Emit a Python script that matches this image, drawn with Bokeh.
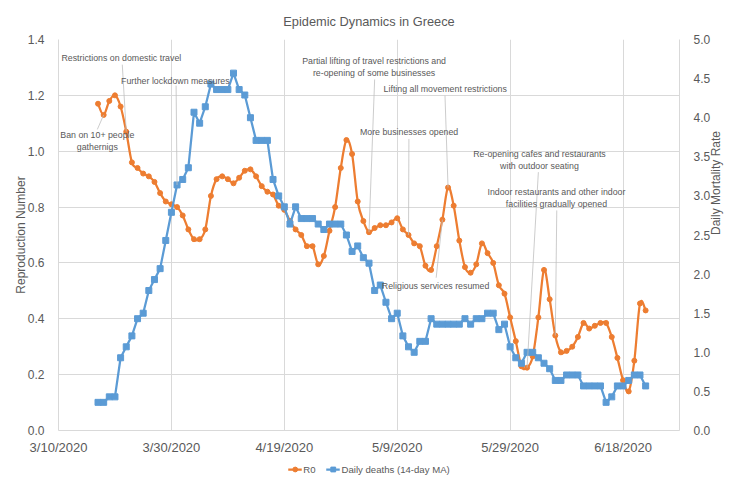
import math
import pandas as pd
from bokeh.plotting import figure
from bokeh.layouts import column
from bokeh.models import (Range1d, LinearAxis, FixedTicker, Legend, LegendItem,
                          Label, ColumnDataSource)
from bokeh.embed import file_html
from bokeh.resources import INLINE

# ---------------- data ----------------
start_date = "2020-03-17"
r0 = [1.17, 1.13, 1.18, 1.20, 1.16, 1.07, 0.96, 0.94, 0.92, 0.91, 0.89, 0.85, 0.82, 0.81, 0.80,
      0.77, 0.72, 0.685, 0.685, 0.72, 0.84, 0.90, 0.91, 0.90, 0.885, 0.905, 0.93, 0.935, 0.91,
      0.875, 0.855, 0.845, 0.805, 0.79, 0.75, 0.72, 0.70, 0.66, 0.66, 0.595, 0.625, 0.715, 0.80,
      0.94, 1.04,
      0.99, 0.82, 0.75, 0.71, 0.725, 0.735, 0.735, 0.745, 0.76, 0.72, 0.70, 0.67, 0.66, 0.59,
      0.575, 0.66, 0.755, 0.87, 0.805, 0.68, 0.585, 0.565, 0.595, 0.67, 0.635, 0.60, 0.52, 0.49,
      0.405, 0.32, 0.23,
      0.225, 0.265, 0.405, 0.575, 0.47, 0.34, 0.28, 0.285, 0.30, 0.335, 0.385, 0.365, 0.375,
      0.385, 0.385, 0.335, 0.26, 0.18, 0.14, 0.25, 0.455, 0.43]
deaths = [0.36, 0.36, 0.43, 0.43, 0.93, 1.07, 1.21, 1.43, 1.50, 1.79, 1.93, 2.07, 2.43, 2.79, 3.14,
          3.21, 3.36, 4.07, 3.93, 4.14, 4.43, 4.36, 4.36, 4.36, 4.57, 4.36, 4.29, 4.00, 3.71,
          3.71, 3.71, 3.21, 3.00, 2.86, 2.64, 2.86, 2.71, 2.71, 2.71, 2.64, 2.57, 2.64, 2.64,
          2.64, 2.50,
          2.29, 2.36, 2.21, 2.14, 1.79, 1.86, 1.64, 1.43, 1.50, 1.21, 1.07, 1.00, 1.14, 1.14,
          1.43, 1.36, 1.36, 1.36, 1.36, 1.36, 1.43, 1.36, 1.43, 1.43, 1.50, 1.50, 1.29, 1.36,
          1.07, 0.93, 0.86,
          1.00, 1.00, 0.93, 0.86, 0.79, 0.64, 0.64, 0.71, 0.71, 0.71, 0.57, 0.57, 0.57, 0.57,
          0.36, 0.43, 0.57, 0.57, 0.64, 0.71, 0.71, 0.57]
x_tick_labels = ["3/10/2020", "3/30/2020", "4/19/2020", "5/9/2020", "5/29/2020", "6/18/2020"]
x_end_label = "6/28/2020"
left_ticks = [0.0, 0.2, 0.4, 0.6, 0.8, 1.0, 1.2, 1.4]
right_ticks = [0.0, 0.5, 1.0, 1.5, 2.0, 2.5, 3.0, 3.5, 4.0, 4.5, 5.0]
series_names = ["R0", "Daily deaths (14-day MA)"]

# annotations: text, text centre (days after 3/10, R0 units), leader start, target series, target date
annotations = [
    ("Ban on 10+ people\ngathernigs", 6.88, 1.0365, 6.88, 1.078, "r0", "2020-03-18"),
    ("Restrictions on domestic travel", 11.13, 1.332, 11.3, 1.31, "r0", "2020-03-22"),
    ("Further lockdown measures", 20.7, 1.253, 20.83, 1.235, "deaths", "2020-03-31"),
    ("Partial lifting of travel restrictions and\nre-opening of some businesses", 55.9, 1.3025, 56.0, 1.257, "r0", "2020-05-04"),
    ("Lifting all movement restrictions", 68.5, 1.221, 68.46, 1.199, "r0", "2020-05-18"),
    ("More businesses opened", 62.1, 1.068, 62.07, 1.044, "r0", "2020-05-11"),
    ("Religious services resumed", 66.8, 0.519, 66.9, 0.547, "r0", "2020-05-17"),
    ("Re-opening cafes and restaurants\nwith outdoor seating", 85.2, 0.969, 85.0, 0.925, "r0", "2020-06-01"),
    ("Indoor restaurants and other indoor\nfacilities gradually opened", 88.2, 0.8315, 88.26, 0.788, "r0", "2020-06-06"),
]

# ---------------- style ----------------
FONT = "Liberation Sans"
TXT = "#595959"
GRID = "#d9d9d9"
ORANGE = "#ED7D31"
BLUE = "#5B9BD5"
DAY = 86400000.0

def ms(s):
    return pd.Timestamp(s).value // 10**6

dates = pd.date_range(start_date, periods=len(r0), freq="D")
xs = [float(v) for v in (dates.astype("int64") // 10**6)]
tick_ms = [ms(pd.to_datetime(t, format="%m/%d/%Y")) for t in x_tick_labels]
x0 = tick_ms[0]
x1 = ms(pd.to_datetime(x_end_label, format="%m/%d/%Y"))

p = figure(width=737, height=462, x_axis_type="datetime",
           x_range=Range1d(x0, x1), y_range=Range1d(left_ticks[0], left_ticks[-1]),
           output_backend="svg", toolbar_location=None,
           min_border_left=58, min_border_right=58, min_border_top=39, min_border_bottom=32)
p.extra_y_ranges = {"deaths": Range1d(right_ticks[0], right_ticks[-1])}
p.outline_line_color = None
p.background_fill_color = "white"

p.title.text = "Epidemic Dynamics in Greece"
p.title.align = "center"
p.title.text_font = FONT
p.title.text_font_size = "12.8px"
p.title.text_font_style = "normal"
p.title.text_color = TXT
p.title.standoff = 22

# x axis
xa = p.xaxis[0]
xa.ticker = FixedTicker(ticks=tick_ms)
xa.major_label_overrides = {t: l for t, l in zip(tick_ms, x_tick_labels)}
xa.major_label_text_font = FONT
xa.major_label_text_font_size = "13px"
xa.major_label_text_color = TXT
xa.major_label_standoff = 3
xa.axis_line_color = GRID
xa.major_tick_line_color = None
xa.minor_tick_line_color = None

# left axis
ya = p.yaxis[0]
ya.ticker = FixedTicker(ticks=left_ticks)
ya.major_label_overrides = {t: f"{t:.1f}" for t in left_ticks}
ya.axis_label = "Reproduction Number"

# right axis
ra = LinearAxis(y_range_name="deaths", axis_label="Daily  Mortality Rate")
ra.ticker = FixedTicker(ticks=right_ticks)
ra.major_label_overrides = {t: f"{t:.1f}" for t in right_ticks}
p.add_layout(ra, "right")
try:
    ra.axis_label_orientation = math.pi / 2
except Exception:
    pass

for ax in (ya, ra):
    ax.major_label_text_font = FONT
    ax.major_label_text_font_size = "12px"
    ax.major_label_text_color = TXT
    ax.axis_label_text_font = FONT
    ax.axis_label_text_font_size = "12px"
    ax.axis_label_text_font_style = "normal"
    ax.axis_label_text_color = TXT
    ax.axis_line_color = GRID
    ax.major_tick_line_color = None
    ax.minor_tick_line_color = None
ya.major_label_standoff = 8
ya.axis_label_standoff = -3
ra.major_label_standoff = 8
ra.axis_label_standoff = 3

p.xgrid.ticker = FixedTicker(ticks=tick_ms)
p.ygrid.ticker = FixedTicker(ticks=left_ticks)
p.xgrid.grid_line_color = GRID
p.ygrid.grid_line_color = GRID

# ---------------- orange series (smoothed like Excel) ----------------
n = len(r0)
bx0, by0, bx1, by1, cx0, cy0, cx1, cy1 = [], [], [], [], [], [], [], []
for i in range(n - 1):
    a = i - 1 if i > 0 else i
    d = i + 2 if i + 2 < n else i + 1
    bx0.append(xs[i]); by0.append(r0[i])
    bx1.append(xs[i + 1]); by1.append(r0[i + 1])
    cx0.append(xs[i] + (xs[i + 1] - xs[a]) / 6.0)
    cy0.append(r0[i] + (r0[i + 1] - r0[a]) / 6.0)
    cx1.append(xs[i + 1] - (xs[d] - xs[i]) / 6.0)
    cy1.append(r0[i + 1] - (r0[d] - r0[i]) / 6.0)
bsrc = ColumnDataSource(dict(x0=bx0, y0=by0, x1=bx1, y1=by1, cx0=cx0, cy0=cy0, cx1=cx1, cy1=cy1))
p.bezier(x0="x0", y0="y0", x1="x1", y1="y1", cx0="cx0", cy0="cy0", cx1="cx1", cy1="cy1",
         source=bsrc, line_color=ORANGE, line_width=2.25)
p.scatter(xs, r0, marker="circle", size=5, fill_color=ORANGE, line_color=ORANGE)

# ---------------- blue series ----------------
p.line(xs, deaths, y_range_name="deaths", line_color=BLUE, line_width=2.25)
p.scatter(xs, deaths, y_range_name="deaths", marker="square", size=6,
          fill_color=BLUE, line_color=BLUE)

# ---------------- annotations ----------------
date_index = {d.strftime("%Y-%m-%d"): i for i, d in enumerate(dates)}
lead_r0 = dict(x0=[], y0=[], x1=[], y1=[])
lead_d = dict(x0=[], y0=[], x1=[], y1=[])
scale = right_ticks[-1] / left_ticks[-1]
for text, tx, ty, lx, ly, ser, tdate in annotations:
    p.add_layout(Label(x=x0 + tx * DAY, y=ty, text=text, text_align="center",
                       text_baseline="middle", text_font=FONT, text_font_size="8.8px",
                       text_color=TXT, text_line_height=1.2))
    k = date_index[tdate]
    if ser == "r0":
        lead_r0["x0"].append(x0 + lx * DAY); lead_r0["y0"].append(ly)
        lead_r0["x1"].append(xs[k]); lead_r0["y1"].append(r0[k])
    else:
        lead_d["x0"].append(x0 + lx * DAY); lead_d["y0"].append(ly * scale)
        lead_d["x1"].append(xs[k]); lead_d["y1"].append(deaths[k])
p.segment(x0="x0", y0="y0", x1="x1", y1="y1", source=ColumnDataSource(lead_r0),
          line_color="#bfbfbf", line_width=0.8)
p.segment(x0="x0", y0="y0", x1="x1", y1="y1", source=ColumnDataSource(lead_d),
          y_range_name="deaths", line_color="#bfbfbf", line_width=0.8)

# ---------------- legend (own strip below the chart) ----------------
# the strip shows none of the series itself (its ranges lie outside the data);
# its renderers only provide the legend samples
lg = figure(width=737, height=14, output_backend="svg", toolbar_location=None,
            x_range=Range1d(0, 1), y_range=Range1d(0, 1),
            x_axis_location=None, y_axis_location=None, min_border=0)
lg.grid.visible = False
lg.outline_line_color = None
k_line_o = lg.line(xs, r0, line_color=ORANGE, line_width=2.25)
k_dot_o = lg.scatter(xs, r0, marker="circle", size=5, fill_color=ORANGE, line_color=ORANGE)
k_line_b = lg.line(xs, deaths, line_color=BLUE, line_width=2.25)
k_dot_b = lg.scatter(xs, deaths, marker="square", size=6, fill_color=BLUE, line_color=BLUE)
legend = Legend(items=[LegendItem(label=series_names[0], renderers=[k_line_o, k_dot_o]),
                       LegendItem(label=series_names[1], renderers=[k_line_b, k_dot_b])],
                location="center", orientation="horizontal",
                label_text_font=FONT, label_text_font_size="9.6px", label_text_color=TXT,
                glyph_width=14, glyph_height=12, label_standoff=2, label_width=8,
                spacing=10, padding=0, margin=0, border_line_color=None,
                background_fill_alpha=0)
lg.add_layout(legend)

layout = column(p, lg, spacing=0)
open("out.html", "w").write(file_html(layout, INLINE))
